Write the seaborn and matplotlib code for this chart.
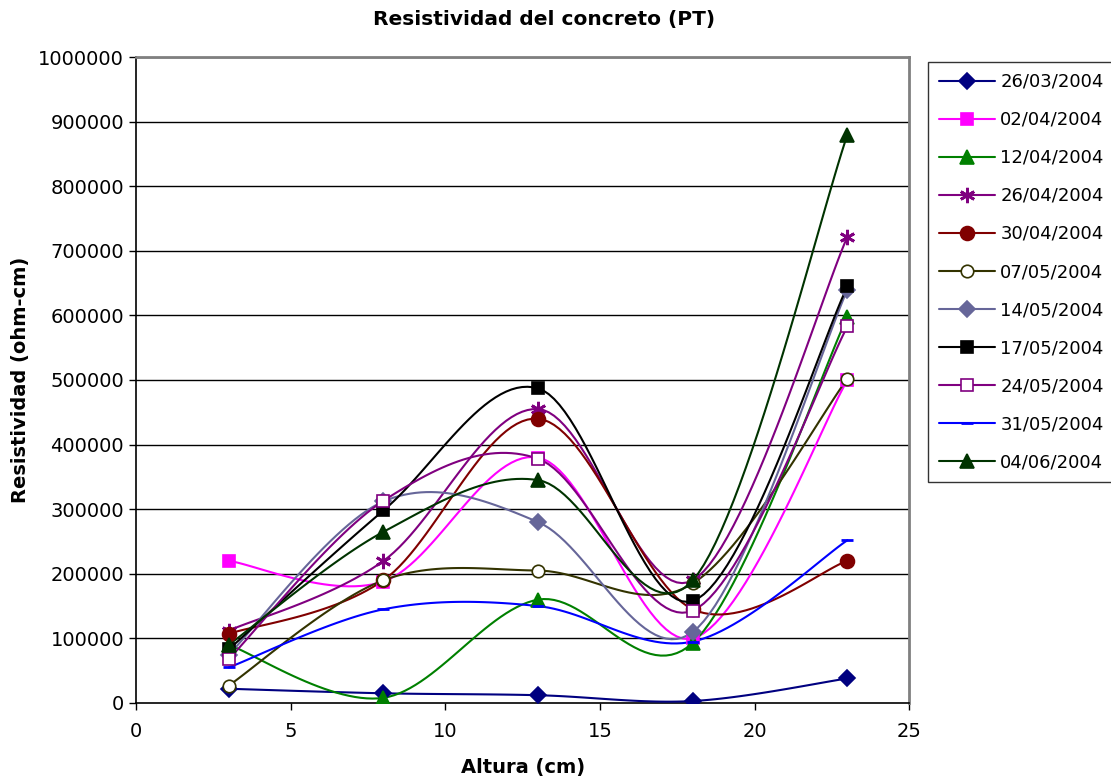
import numpy as np
import pandas as pd
import matplotlib
matplotlib.use("Agg")
import matplotlib.pyplot as plt
import seaborn as sns
from matplotlib.lines import Line2D

altura = [3, 8, 13, 18, 23]
fechas = ["26/03/2004", "02/04/2004", "12/04/2004", "26/04/2004", "30/04/2004",
          "07/05/2004", "14/05/2004", "17/05/2004", "24/05/2004", "31/05/2004", "04/06/2004"]
s_2603 = [22000, 15000, 12000, 3000, 38000]
s_0204 = [220000, 188000, 380000, 100000, 500000]
s_1204 = [90000, 8000, 160000, 93000, 598000]
s_2604 = [112000, 220000, 455000, 190000, 722000]
s_3004 = [107000, 190000, 440000, 145000, 220000]
s_0705 = [27000, 190000, 205000, 185000, 502000]
s_1405 = [75000, 312000, 280000, 110000, 640000]
s_1705 = [83000, 298000, 487000, 158000, 645000]
s_2405 = [68000, 313000, 378000, 143000, 583000]
s_3105 = [55000, 145000, 150000, 95000, 252000]
s_0406 = [90000, 265000, 345000, 190000, 880000]
series = [s_2603, s_0204, s_1204, s_2604, s_3004, s_0705, s_1405, s_1705, s_2405, s_3105, s_0406]

colors = ["#000080", "#FF00FF", "#008000", "#800080", "#800000", "#333300",
          "#666699", "#000000", "#800080", "#0000FF", "#003300"]
markers = ["D", "s", "^", (6, 2, 0), "o", "o", "D", "s", "s", "_", "^"]
faces = ["#000080", "#FF00FF", "#008000", "#800080", "#800000", "white",
         "#666699", "#000000", "white", "#0000FF", "#003300"]
msizes = [8, 9, 10, 11, 10, 9, 8, 9, 9, 8, 10]


def smooth(x, y, n=30):
    # Excel-like smoothing: cubic Bezier with Catmull-Rom control points
    x = np.asarray(x, float); y = np.asarray(y, float)
    P = np.column_stack([x, y])
    out = []
    for i in range(len(P) - 1):
        p0 = P[i - 1] if i > 0 else P[i]
        p1 = P[i]; p2 = P[i + 1]
        p3 = P[i + 2] if i + 2 < len(P) else P[i + 1]
        c1 = p1 + (p2 - p0) / 6.0
        c2 = p2 - (p3 - p1) / 6.0
        t = np.linspace(0, 1, n)[:, None]
        b = ((1 - t) ** 3) * p1 + 3 * ((1 - t) ** 2) * t * c1 + 3 * (1 - t) * t ** 2 * c2 + t ** 3 * p2
        out.append(b if i == 0 else b[1:])
    B = np.vstack(out)
    return B[:, 0], B[:, 1]


sns.set_theme(style="white")
plt.rcParams['font.family'] = ['DejaVu Sans']
plt.rcParams.update({"text.color": "black", "axes.labelcolor": "black",
                     "xtick.color": "black", "ytick.color": "black"})

fig = plt.figure(figsize=(11.11, 7.81), dpi=100)
ax = fig.add_axes([0.1224, 0.0999, 0.8185 - 0.1224, 0.927 - 0.0999])

for yv in range(100000, 1000001, 100000):
    ax.axhline(yv, color="black", lw=1.0, zorder=0)

handles = []
for name, vals, c, m, fc, ms in zip(fechas, series, colors, markers, faces, msizes):
    sx, sy = smooth(altura, vals)
    df = pd.DataFrame({"x": sx, "y": sy})
    sns.lineplot(data=df, x="x", y="y", ax=ax, color=c, lw=1.5, sort=False,
                 estimator=None, zorder=3)
    mew = 2.0 if m in ["_", (6, 2, 0)] else 1.2
    ax.plot(altura, vals, linestyle="none", marker=m, color=c, markerfacecolor=fc,
            markeredgecolor=c, markersize=ms, markeredgewidth=mew, zorder=4)
    handles.append(Line2D([0], [0], color=c, lw=1.5, marker=m, markerfacecolor=fc,
                          markeredgecolor=c, markersize=ms, markeredgewidth=mew))

ax.set_xlim(0, 25)
ax.set_ylim(0, 1000000)
ax.set_xticks(range(0, 26, 5))
ax.set_yticks(range(0, 1000001, 100000))
ax.set_yticklabels([str(v) for v in range(0, 1000001, 100000)])
ax.tick_params(axis="both", labelsize=14, colors="black", length=5, width=1,
               direction="out", bottom=True, left=True)
ax.tick_params(axis="x", pad=9)
for side in ["left", "bottom"]:
    ax.spines[side].set_color("black")
    ax.spines[side].set_linewidth(1.2)
for side in ["top", "right"]:
    ax.spines[side].set_color("#808080")
    ax.spines[side].set_linewidth(2)
ax.set_xlabel("Altura (cm)", fontsize=14, fontweight="bold", labelpad=12)
ax.set_ylabel("Resistividad (ohm-cm)", fontsize=14, fontweight="bold", labelpad=6)
fig.text(544 / 1111, 1 - 20 / 781, "Resistividad del concreto (PT)", fontsize=14.5,
         fontweight="bold", ha="center", va="center", color="black")

leg = fig.legend(handles, fechas, loc="upper left", bbox_to_anchor=(928 / 1111, 1 - 62 / 781),
                 fontsize=13, frameon=True, fancybox=False, edgecolor="black",
                 borderpad=0.6, labelspacing=1.11, handlelength=3.1, handletextpad=0.3,
                 borderaxespad=0)
leg.get_frame().set_linewidth(1.0)

fig.savefig("out.png", dpi=100, facecolor="white")
